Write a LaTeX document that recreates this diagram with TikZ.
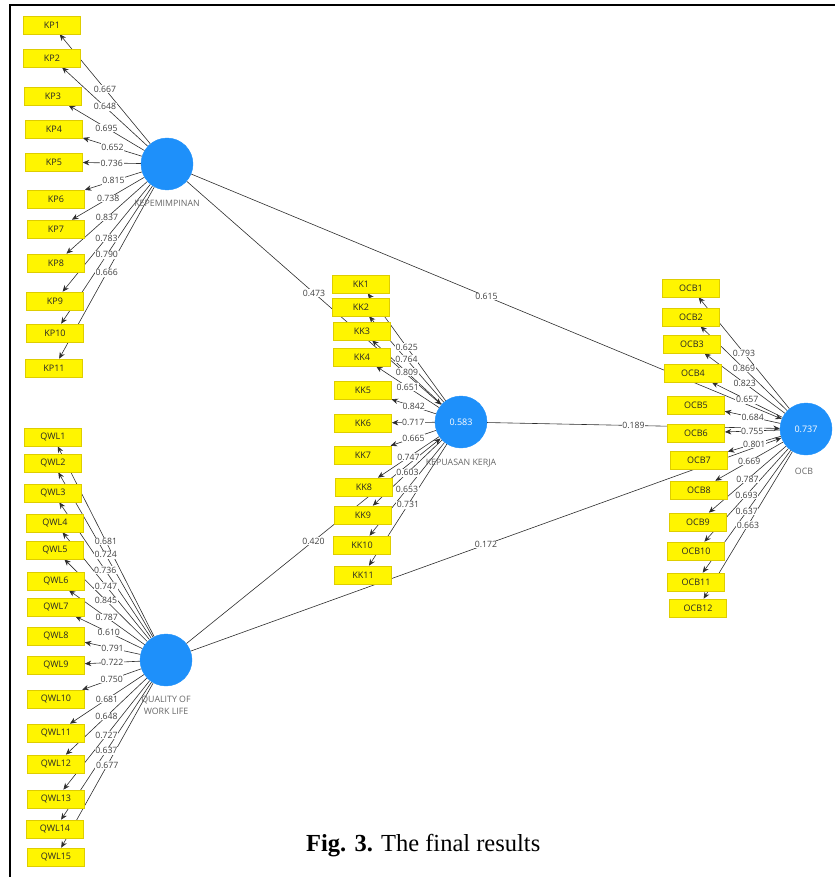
\documentclass[tikz,border=0pt]{standalone}
\usepackage{fontspec}
\setmainfont{Liberation Serif}
\newfontfamily\plsfont{Open Sans}
\usetikzlibrary{arrows.meta}
\pgfdeclarelayer{bg}
\pgfsetlayers{bg,main}
\definecolor{plsblue}{RGB}{30,144,250}
\definecolor{boxyellow}{RGB}{255,245,0}
\definecolor{boxedge}{RGB}{222,205,0}
\definecolor{linegray}{RGB}{45,45,45}
\begin{document}
\begin{tikzpicture}[x=1pt,y=-1pt,
 ind/.style={rectangle,draw=boxedge,fill=boxyellow,line width=0.6pt,minimum width=57pt,minimum height=18pt,inner sep=0pt,font=\plsfont\fontsize{9}{10}\selectfont,text=black!85},
 lv/.style={circle,fill=plsblue,draw=plsblue,minimum size=52pt,inner sep=0pt,font=\plsfont\fontsize{9}{10}\selectfont,text=white},
 lvname/.style={font=\plsfont\fontsize{8.8}{12}\selectfont,text=black!60,align=center,inner sep=0pt},
 conn/.style={draw=linegray,line width=0.6pt,-{Stealth[length=6.5pt,width=5.5pt]}},
 coef/.style={fill=white,inner sep=0.6pt,font=\plsfont\fontsize{8.7}{9}\selectfont,text=black!75},
]
\useasboundingbox (0,0) rectangle (835,877);
\draw[line width=2pt] (10,877) -- (10,5) -- (835,5);

% latent variables
\node[lv] (KEP) at (167,164) {};
\node[lv] (KK) at (461,422) {0.583};
\node[lv] (OCB) at (806,429) {0.737};
\node[lv] (QWL) at (166,660) {};
\node[lvname] (KEPn) at (167,203) {KEPEMIMPINAN};
\node[lvname] (KKn) at (461,463) {KEPUASAN KERJA};
\node[lvname] (OCBn) at (804,471) {OCB};
\node[lvname] (QWLn) at (166,705) {QUALITY OF\\WORK LIFE};

% indicators
\foreach \i/\x/\y in {1/52/25,2/52/58,3/53/96,4/54/129,5/54/162,6/56/199,7/56/229,8/56/263,9/55/301,10/55/333,11/54/368}
  \node[ind] (KP\i) at (\x,\y) {KP\i};
\foreach \i/\x/\y in {1/53/437,2/53/463,3/53/493,4/55/523,5/55/550,6/56/581,7/56/607,8/56/636,9/56/665,10/56/699,11/56/733,12/56/764,13/56/799,14/55/829,15/56/857}
  \node[ind] (QWL\i) at (\x,\y) {QWL\i};
\foreach \i/\x/\y in {1/361/284,2/361/307,3/362/331,4/362/357,5/363/390,6/363/423,7/363/455,8/364/487,9/363/515,10/362/545,11/363/575}
  \node[ind] (KK\i) at (\x,\y) {KK\i};
\foreach \i/\x/\y in {1/691/288,2/691/317,3/692/344,4/693/373,5/696/405,6/696/433,7/699/460,8/699/490,9/698/522,10/696/551,11/696/582,12/698/608}
  \node[ind] (OCB\i) at (\x,\y) {OCB\i};

% connectors
\begin{pgfonlayer}{bg}
\foreach \i in {1,...,11} \draw[conn] (KEP) -- (KP\i) coordinate[midway] (mKP\i);
\foreach \i in {1,...,15} \draw[conn] (QWL) -- (QWL\i) coordinate[midway] (mQWL\i);
\foreach \i in {1,...,11} \draw[conn] (KK) -- (KK\i) coordinate[midway] (mKK\i);
\foreach \i in {1,...,12} \draw[conn] (OCB) -- (OCB\i) coordinate[midway] (mOCB\i);
\draw[conn] (KEP) -- (KK) coordinate[midway] (mKEPKK);
\draw[conn] (KEP) -- (OCB) coordinate[midway] (mKEPOCB);
\draw[conn] (QWL) -- (KK) coordinate[midway] (mQWLKK);
\draw[conn] (QWL) -- (OCB) coordinate[midway] (mQWLOCB);
\draw[conn] (KK) -- (OCB) coordinate[midway] (mKKOCB);
\end{pgfonlayer}

% coefficients
\foreach \i/\v in {1/0.667,2/0.648,3/0.695,4/0.652,5/0.736,6/0.815,7/0.738,8/0.837,9/0.783,10/0.790,11/0.666}
  \node[coef] (cKP\i) at (mKP\i) {\v};
\foreach \i/\v in {1/0.681,2/0.724,3/0.736,4/0.747,5/0.845,6/0.787,7/0.610,8/0.791,9/0.722,10/0.750,11/0.681,12/0.648,13/0.727,14/0.637,15/0.677}
  \node[coef] (cQWL\i) at (mQWL\i) {\v};
\foreach \i/\v in {1/0.625,2/0.764,3/0.809,4/0.651,5/0.842,6/0.717,7/0.665,8/0.747,9/0.603,10/0.653,11/0.731}
  \node[coef] (cKK\i) at (mKK\i) {\v};
\foreach \i/\v in {1/0.793,2/0.869,3/0.823,4/0.657,5/0.684,6/0.755,7/0.801,8/0.669,9/0.787,10/0.693,11/0.637,12/0.663}
  \node[coef] (cOCB\i) at (mOCB\i) {\v};
\node[coef] (cKEPKK) at (mKEPKK) {0.473};
\node[coef] (cKEPOCB) at (mKEPOCB) {0.615};
\node[coef] (cQWLKK) at (mQWLKK) {0.420};
\node[coef] (cQWLOCB) at (mQWLOCB) {0.172};
\node[coef] (cKKOCB) at (mKKOCB) {0.189};

% caption
\node[anchor=base west,inner sep=0pt,font=\fontsize{24.5}{30}\selectfont] (cap) at (306,851) {\textbf{Fig. 3.} The final results};
\end{tikzpicture}
\end{document}
